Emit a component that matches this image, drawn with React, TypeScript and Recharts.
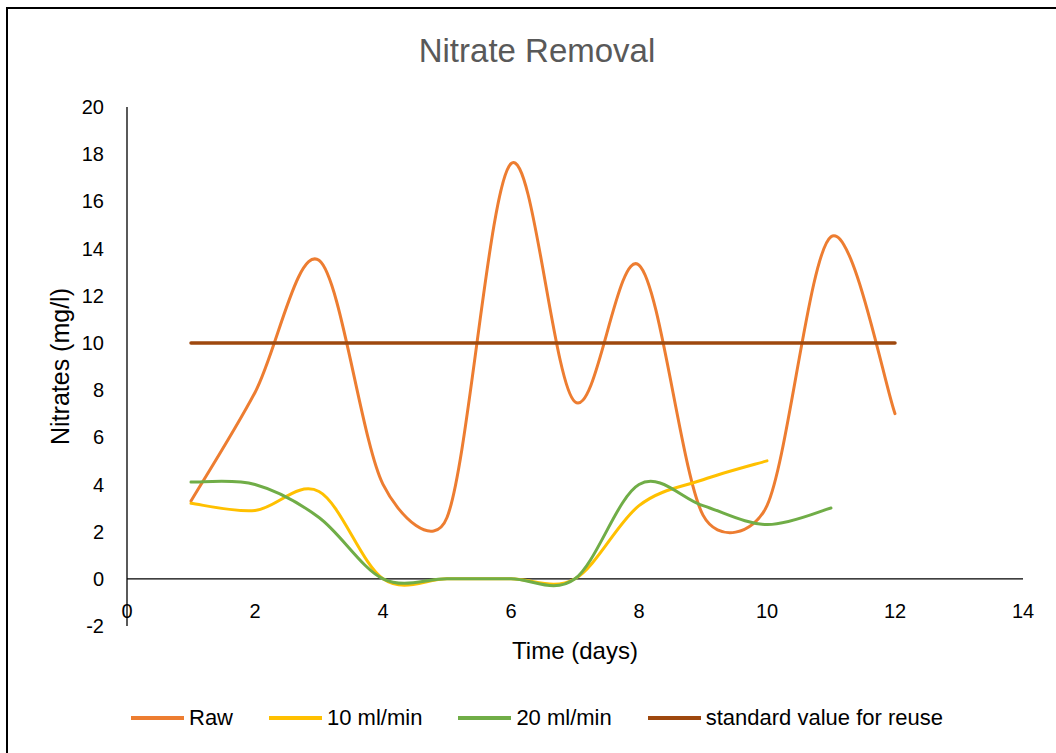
import { LineChart, Line, XAxis, YAxis, ReferenceLine } from "recharts";

const days = [1, 2, 3, 4, 5, 6, 7, 8, 9, 10, 11, 12];
const raw = [3.3, 7.9, 13.5, 4.0, 2.6, 17.6, 7.5, 13.3, 2.7, 3.1, 14.5, 7.0];
const flow10 = [3.2, 2.9, 3.7, 0, 0, 0, 0, 3.1, 4.2, 5.0];
const flow20 = [4.1, 4.0, 2.6, 0, 0, 0, 0, 4.0, 3.1, 2.3, 3.0];
const standard = [10, 10, 10, 10, 10, 10, 10, 10, 10, 10, 10, 10];

const xTicks = [0, 2, 4, 6, 8, 10, 12, 14];
const yTicks = [-2, 0, 2, 4, 6, 8, 10, 12, 14, 16, 18, 20];

const FONT = "'Liberation Sans', Arial, sans-serif";

const series = [
    {name: "Raw", values: raw, color: "#ED7D31", width: 3},
    {name: "10 ml/min", values: flow10, color: "#FFC000", width: 3},
    {name: "20 ml/min", values: flow20, color: "#70AD47", width: 3},
    {name: "standard value for reuse", values: standard, color: "#9E480E", width: 3.5},
];

const toPoints = (values: number[]) => values.map((v, i) => ({day: days[i], value: v}));

// excel style smoothed line: bezier handles of 1/6, capped at half the segment
function excelSmooth(context: any) {
    let pts: number[][] = [];
    return {
        areaStart() {},
        areaEnd() {},
        lineStart() {
            pts = [];
        },
        point(x: number, y: number) {
            pts.push([+x, +y]);
        },
        lineEnd() {
            const n = pts.length;
            if (!n) return;
            context.moveTo(pts[0][0], pts[0][1]);
            if (n === 1) {
                context.lineTo(pts[0][0], pts[0][1]);
                return;
            }
            for (let i = 0; i < n - 1; i++) {
                const p0 = pts[Math.max(i - 1, 0)];
                const p1 = pts[i];
                const p2 = pts[i + 1];
                const p3 = pts[Math.min(i + 2, n - 1)];
                const d12 = Math.hypot(p2[0] - p1[0], p2[1] - p1[1]);
                const d02 = Math.hypot(p2[0] - p0[0], p2[1] - p0[1]);
                const d13 = Math.hypot(p3[0] - p1[0], p3[1] - p1[1]);
                let f1 = 1 / 6, f2 = 1 / 6;
                if (d02 / 6 > d12 / 2) f1 = d12 / (2 * d02);
                if (d13 / 6 > d12 / 2) f2 = d12 / (2 * d13);
                context.bezierCurveTo(
                    p1[0] + (p2[0] - p0[0]) * f1, p1[1] + (p2[1] - p0[1]) * f1,
                    p2[0] - (p3[0] - p1[0]) * f2, p2[1] - (p3[1] - p1[1]) * f2,
                    p2[0], p2[1]
                );
            }
        },
    };
}

const XTick = ({x, y, payload}: any) => (
    <text x={x} y={y - 15} textAnchor="middle" dominantBaseline="central"
          fontSize={20} fontFamily={FONT} fill="#000">{payload.value}</text>
);

const YLabel = ({viewBox}: any) => {
    const cx = viewBox.x - 27;
    const cy = viewBox.y + viewBox.height / 2;
    return <text x={cx} y={cy} transform={`rotate(-90, ${cx}, ${cy})`} textAnchor="middle"
                 dominantBaseline="central" fontSize={25} fontFamily={FONT} fill="#000">Nitrates (mg/l)</text>
};

const XLabel = ({viewBox}: any) => (
    <text x={viewBox.x + viewBox.width / 2} y={viewBox.y + 24} textAnchor="middle" dominantBaseline="central"
          fontSize={24} fontFamily={FONT} fill="#000">Time (days)</text>
);

export default function App() {
    return <div style={{position: "fixed", left: 0, top: 0, width: 1056, height: 753, overflow: "hidden", background: "#fff"}}>
        <div style={{position: "absolute", left: 6, top: 7, width: 1100, height: 800, border: "2px solid #000"}}/>
        <div style={{position: "absolute", left: 7, width: 1060, top: 30, textAlign: "center",
            fontFamily: FONT, fontSize: 33, color: "#595959", lineHeight: "42px"}}>Nitrate Removal</div>
        <div style={{position: "absolute", left: 0, top: 0}}>
            <LineChart width={1056} height={753} margin={{top: 107, right: 33, bottom: 97, left: 87}}>
                <XAxis dataKey="day" type="number" domain={[0, 14]} ticks={xTicks} allowDuplicatedCategory={false}
                       axisLine={false} tickLine={false} tickSize={0} tickMargin={0} height={30}
                       tick={<XTick/>} label={<XLabel/>}/>
                <YAxis type="number" domain={[-2, 20]} ticks={yTicks} width={40}
                       axisLine={{stroke: "#000", strokeWidth: 1.3}} tickLine={false} tickSize={0} tickMargin={23}
                       tick={{fontSize: 20, fontFamily: FONT, fill: "#000"}} label={<YLabel/>}/>
                <ReferenceLine y={0} stroke="#000" strokeWidth={1.3}/>
                {series.map(s => (
                    <Line key={s.name} data={toPoints(s.values)} dataKey="value" name={s.name}
                          type={excelSmooth as any} stroke={s.color} strokeWidth={s.width}
                          strokeLinecap="round" dot={false} activeDot={false} isAnimationActive={false}/>
                ))}
            </LineChart>
        </div>
        <div style={{position: "absolute", left: 7, width: 1060, top: 704, display: "flex", justifyContent: "center",
            gap: 36, fontFamily: FONT, fontSize: 22, color: "#000", lineHeight: "28px"}}>
            {series.map(s => (
                <div key={s.name} style={{display: "flex", alignItems: "center"}}>
                    <span style={{display: "inline-block", width: 53, height: 4, background: s.color, marginRight: 5}}/>
                    <span>{s.name}</span>
                </div>
            ))}
        </div>
    </div>
}
